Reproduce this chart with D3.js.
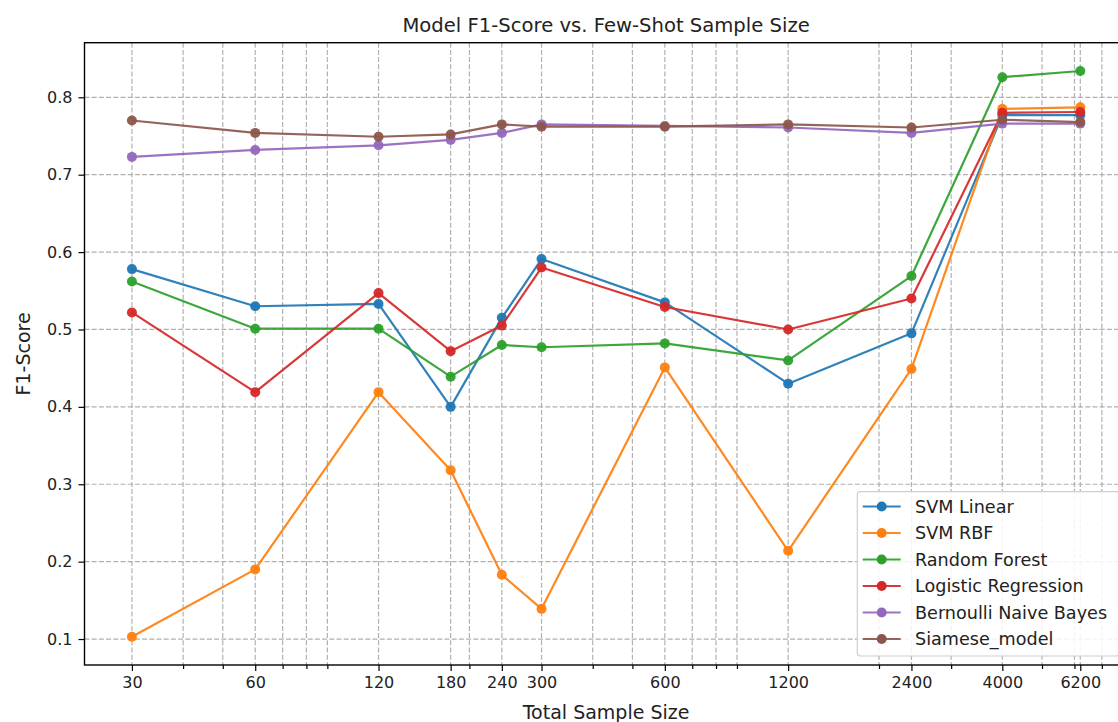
<!DOCTYPE html>
<html>
<head>
<meta charset="utf-8">
<script src="https://cdn.jsdelivr.net/npm/d3@7"></script>
<style>
  html, body { margin: 0; padding: 0; background: #fff; }
  svg { display: block; font-family: "DejaVu Sans", sans-serif; }
</style>
</head>
<body>
<svg id="chart" width="1118" height="722"></svg>
<script>
// Total sample sizes (x) and tick labels
const sampleSizes = [30, 60, 120, 180, 240, 300, 600, 1200, 2400, 4000, 6200];
const xTickLabels = ["30", "60", "120", "180", "240", "300", "600", "1200", "2400", "4000", "6200"];
const yTicks = [0.1, 0.2, 0.3, 0.4, 0.5, 0.6, 0.7, 0.8];

// F1-scores per model
const svmLinear   = [0.578, 0.530, 0.533, 0.400, 0.515, 0.591, 0.535, 0.430, 0.495, 0.777, 0.777];
const svmRbf      = [0.103, 0.190, 0.419, 0.318, 0.183, 0.139, 0.451, 0.214, 0.449, 0.785, 0.787];
const randForest  = [0.562, 0.501, 0.501, 0.439, 0.480, 0.477, 0.482, 0.460, 0.569, 0.826, 0.834];
const logReg      = [0.522, 0.419, 0.547, 0.472, 0.505, 0.580, 0.529, 0.500, 0.540, 0.780, 0.781];
const bernoulliNB = [0.723, 0.732, 0.738, 0.745, 0.754, 0.765, 0.763, 0.761, 0.754, 0.766, 0.766];
const siamese     = [0.770, 0.754, 0.749, 0.752, 0.765, 0.762, 0.762, 0.765, 0.761, 0.771, 0.768];

const seriesNames  = ["SVM Linear", "SVM RBF", "Random Forest", "Logistic Regression", "Bernoulli Naive Bayes", "Siamese_model"];
const seriesValues = [svmLinear, svmRbf, randForest, logReg, bernoulliNB, siamese];
const seriesColors = ["#1f77b4", "#ff7f0e", "#2ca02c", "#d62728", "#9467bd", "#8c564b"];

const svg = d3.select("#chart");
const plot = { left: 84.5, right: 1127.7, top: 42.7, bottom: 665 };

// log x-domain padded by 5% of the log span
const lx0 = Math.log10(d3.min(sampleSizes)), lx1 = Math.log10(d3.max(sampleSizes));
const px = 0.05 * (lx1 - lx0);
const x = d3.scaleLog()
  .domain([Math.pow(10, lx0 - px), Math.pow(10, lx1 + px)])
  .range([plot.left, plot.right]);

const allVals = seriesValues.flat();
const vMin = d3.min(allVals), vMax = d3.max(allVals);
const py = 0.05 * (vMax - vMin);
const y = d3.scaleLinear()
  .domain([vMin - py, vMax + py])
  .range([plot.bottom, plot.top]);

// minor log ticks: 2..9 x 10^k inside the domain, excluding majors
const [d0, d1] = x.domain();
const minorTicks = [];
for (let k = 1; k <= 4; k++) {
  for (let s = 2; s <= 9; s++) {
    const v = s * Math.pow(10, k);
    if (v >= d0 && v <= d1 && !sampleSizes.includes(v)) minorTicks.push(v);
  }
}

svg.append("defs").append("clipPath").attr("id", "plotClip")
  .append("rect")
  .attr("x", plot.left).attr("y", plot.top)
  .attr("width", plot.right - plot.left).attr("height", plot.bottom - plot.top);

// grid
const grid = svg.append("g").attr("clip-path", "url(#plotClip)")
  .attr("stroke", "#b0b0b0").attr("stroke-width", 1.2)
  .attr("stroke-dasharray", "5,2.2").attr("fill", "none");
grid.selectAll("line.vx").data(sampleSizes.concat(minorTicks)).join("line")
  .attr("x1", d => x(d)).attr("x2", d => x(d))
  .attr("y1", plot.top).attr("y2", plot.bottom);
grid.selectAll("line.hy").data(yTicks).join("line")
  .attr("x1", plot.left).attr("x2", plot.right)
  .attr("y1", d => y(d)).attr("y2", d => y(d));

// series
const marks = svg.append("g").attr("clip-path", "url(#plotClip)");
const line = d3.line().x((d, i) => x(sampleSizes[i])).y(d => y(d));
seriesValues.forEach((vals, si) => {
  const g = marks.append("g");
  g.append("path").datum(vals)
    .attr("d", line).attr("fill", "none")
    .attr("stroke", seriesColors[si]).attr("stroke-width", 2.2)
    .attr("stroke-linejoin", "round").attr("stroke-opacity", 0.92);
  g.selectAll("circle").data(vals).join("circle")
    .attr("cx", (d, i) => x(sampleSizes[i])).attr("cy", d => y(d))
    .attr("r", 5).attr("fill", seriesColors[si]).attr("fill-opacity", 0.95);
});

// axes
const xAxis = d3.axisBottom(x).tickValues(sampleSizes)
  .tickFormat((d, i) => xTickLabels[i]).tickSize(6).tickPadding(6);
const xMinor = d3.axisBottom(x).tickValues(minorTicks).tickFormat("").tickSize(4);
const yAxis = d3.axisLeft(y).tickValues(yTicks).tickFormat(d3.format(".1f")).tickSize(6).tickPadding(6);

const gx = svg.append("g").attr("transform", `translate(0,${plot.bottom})`).call(xAxis);
const gxm = svg.append("g").attr("transform", `translate(0,${plot.bottom})`).call(xMinor);
const gy = svg.append("g").attr("transform", `translate(${plot.left},0)`).call(yAxis);
[gx, gxm, gy].forEach(g => {
  g.select(".domain").remove();
  g.selectAll(".tick line").attr("stroke", "#000").attr("stroke-width", 1.2);
  g.selectAll(".tick text").attr("fill", "#222").style("font-size", "16px")
    .style("font-family", "'DejaVu Sans', sans-serif");
});

// spines
svg.append("rect")
  .attr("x", plot.left).attr("y", plot.top)
  .attr("width", plot.right - plot.left).attr("height", plot.bottom - plot.top)
  .attr("fill", "none").attr("stroke", "#000").attr("stroke-width", 1.4);

// title and axis labels
const cx = (plot.left + plot.right) / 2;
svg.append("text").attr("x", cx).attr("y", 32).attr("text-anchor", "middle")
  .attr("fill", "#222").style("font-size", "19.6px").text("Model F1-Score vs. Few-Shot Sample Size");
svg.append("text").attr("x", cx).attr("y", 719).attr("text-anchor", "middle")
  .attr("fill", "#222").style("font-size", "19px").text("Total Sample Size");
svg.append("text")
  .attr("transform", `translate(30,${(plot.top + plot.bottom) / 2}) rotate(-90)`)
  .attr("text-anchor", "middle").attr("fill", "#222").style("font-size", "19px").text("F1-Score");

// legend (lower right)
const leg = svg.append("g");
leg.append("rect")
  .attr("x", 857.3).attr("y", 491.7).attr("width", 1119 - 857.3).attr("height", 656 - 491.7)
  .attr("rx", 3).attr("fill", "#fff").attr("fill-opacity", 0.85)
  .attr("stroke", "#d0d0d0").attr("stroke-width", 1.2);
seriesNames.forEach((name, i) => {
  const cy = 506.5 + i * 26.5;
  leg.append("line").attr("x1", 862.7).attr("x2", 900.7).attr("y1", cy).attr("y2", cy)
    .attr("stroke", seriesColors[i]).attr("stroke-width", 2.2).attr("stroke-opacity", 0.92);
  leg.append("circle").attr("cx", 881.7).attr("cy", cy).attr("r", 5).attr("fill", seriesColors[i]);
  leg.append("text").attr("x", 915).attr("y", cy).attr("dy", "0.35em")
    .attr("fill", "#222").style("font-size", "17.6px").text(name);
});
</script>
</body>
</html>
